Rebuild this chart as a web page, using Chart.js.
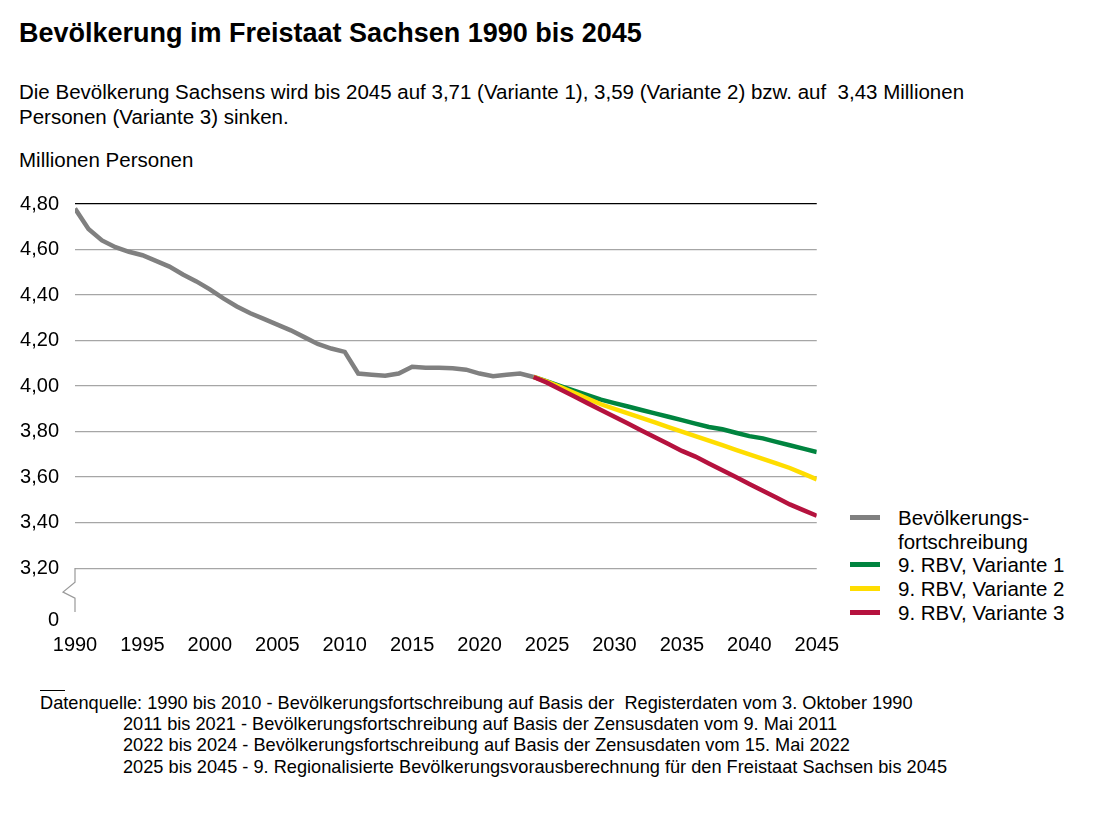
<!DOCTYPE html>
<html><head><meta charset="utf-8">
<script src="https://cdn.jsdelivr.net/npm/chart.js@4"></script>
<style>
body{margin:0;width:1095px;height:824px;background:#fff;font-family:"Liberation Sans",Arial,sans-serif;color:#000;position:relative;overflow:hidden}
.t{position:absolute;white-space:nowrap}
#cw{position:absolute;left:0;top:176px;width:844px;height:484px}
.lg{position:absolute;left:850px;font-size:20.5px;line-height:24px}
.lg span{display:inline-block;width:30px;height:5px;vertical-align:middle;margin-right:18px;position:relative;top:-2px}
.fn{font-size:18.2px;line-height:21px}
</style></head><body>
<div class="t" style="left:19px;top:18px;font-size:27px;font-weight:bold">Bevölkerung im Freistaat Sachsen 1990 bis 2045</div>
<div class="t" style="left:19px;top:79px;font-size:20.5px;line-height:25px">Die Bevölkerung Sachsens wird bis 2045 auf 3,71 (Variante 1), 3,59 (Variante 2) bzw. auf&nbsp; 3,43 Millionen<br>Personen (Variante 3) sinken.</div>
<div class="t" style="left:19px;top:148px;font-size:20.5px">Millionen Personen</div>
<div id="cw"><canvas id="c"></canvas></div>
<div class="lg" style="top:506px"><span style="background:#808080"></span>Bevölkerungs-<br><span style="background:transparent"></span>fortschreibung</div>
<div class="lg" style="top:553px"><span style="background:#00843f"></span>9. RBV, Variante 1</div>
<div class="lg" style="top:577px"><span style="background:#ffdd00"></span>9. RBV, Variante 2</div>
<div class="lg" style="top:601px"><span style="background:#b5123e"></span>9. RBV, Variante 3</div>
<div class="t" style="left:40px;top:690px;width:25px;border-top:1px solid #000"></div>
<div class="t fn" style="left:40px;top:693px">Datenquelle: 1990 bis 2010 - Bevölkerungsfortschreibung auf Basis der&nbsp; Registerdaten vom 3. Oktober 1990</div>
<div class="t fn" style="left:123px;top:714px">2011 bis 2021 - Bevölkerungsfortschreibung auf Basis der Zensusdaten vom 9. Mai 2011</div>
<div class="t fn" style="left:123px;top:735px">2022 bis 2024 - Bevölkerungsfortschreibung auf Basis der Zensusdaten vom 15. Mai 2022</div>
<div class="t fn" style="left:123px;top:757px">2025 bis 2045 - 9. Regionalisierte Bevölkerungsvorausberechnung für den Freistaat Sachsen bis 2045</div>
<script>
const histYears=[1990,1991,1992,1993,1994,1995,1996,1997,1998,1999,2000,2001,2002,2003,2004,2005,2006,2007,2008,2009,2010,2011,2012,2013,2014,2015,2016,2017,2018,2019,2020,2021,2022,2023,2024];
const histValues=[4.78,4.69,4.64,4.61,4.59,4.575,4.55,4.525,4.49,4.46,4.425,4.385,4.35,4.32,4.295,4.27,4.245,4.215,4.185,4.165,4.15,4.055,4.05,4.045,4.055,4.085,4.08,4.08,4.078,4.072,4.055,4.043,4.05,4.055,4.04];
const projYears=[2024,2025,2026,2027,2028,2029,2030,2031,2032,2033,2034,2035,2036,2037,2038,2039,2040,2041,2042,2043,2044,2045];
const var1=[4.04,4.02,4.0,3.98,3.96,3.94,3.925,3.91,3.895,3.88,3.865,3.85,3.835,3.82,3.81,3.795,3.78,3.77,3.755,3.74,3.725,3.71];
const var2=[4.04,4.02,3.995,3.97,3.945,3.92,3.9,3.88,3.86,3.84,3.82,3.8,3.78,3.76,3.74,3.72,3.7,3.68,3.66,3.64,3.615,3.59];
const var3=[4.04,4.015,3.985,3.955,3.925,3.895,3.865,3.835,3.805,3.775,3.745,3.715,3.69,3.66,3.63,3.6,3.57,3.54,3.51,3.48,3.455,3.43];
const yTicks=[3.2,3.4,3.6,3.8,4.0,4.2,4.4,4.6,4.8];
const YMIN=2.972;
const pts=(xs,ys)=>xs.map((x,i)=>({x,y:ys[i]}));
const ds=(d,c)=>({data:d,borderColor:c,borderWidth:4.5,pointRadius:0,tension:0,fill:false});
const breakPlugin={id:'brk',afterDraw(ch){const c=ch.ctx,y=ch.scales.y,x0=ch.chartArea.left;const yT=y.getPixelForValue(3.2),yB=ch.chartArea.bottom;c.save();c.strokeStyle='#999';c.lineWidth=1.2;c.beginPath();c.moveTo(x0,yT);c.lineTo(x0,yT+14);c.lineTo(x0-12,yT+24);c.lineTo(x0,yT+30);c.lineTo(x0,yB-8);c.stroke();c.restore();}};
new Chart(document.getElementById('c'),{type:'line',
data:{datasets:[ds(pts(projYears,var3),'#b5123e'),ds(pts(projYears,var2),'#ffdd00'),ds(pts(projYears,var1),'#00843f'),ds(pts(histYears,histValues),'#808080')]},
options:{responsive:true,maintainAspectRatio:false,animation:false,
layout:{padding:{top:19,right:20,left:0,bottom:0}},
plugins:{legend:{display:false},tooltip:{enabled:false}},
scales:{
x:{type:'linear',min:1990,max:2045,afterBuildTicks(a){a.ticks=[1990,1995,2000,2005,2010,2015,2020,2025,2030,2035,2040,2045].map(v=>({value:v}));},
ticks:{color:'#000',font:{family:'Liberation Sans',size:20},maxRotation:0,padding:5,callback:v=>String(v)},
grid:{display:false},border:{display:false},afterFit(a){a.height=40;}},
y:{type:'linear',min:YMIN,max:4.8,afterBuildTicks(a){a.ticks=[YMIN,...yTicks].map(v=>({value:v}));},
ticks:{color:'#000',font:{family:'Liberation Sans',size:20},padding:16,callback:v=>v===YMIN?'0':v.toFixed(2).replace('.',',')},
grid:{color:c=>c.tick&&c.tick.value===4.8?'#000':(c.tick&&c.tick.value===YMIN?'rgba(0,0,0,0)':'#a6a6a6'),lineWidth:1.2,drawTicks:false},
border:{display:false},afterFit(a){a.width=75;}}
}},plugins:[breakPlugin]});
</script></body></html>
